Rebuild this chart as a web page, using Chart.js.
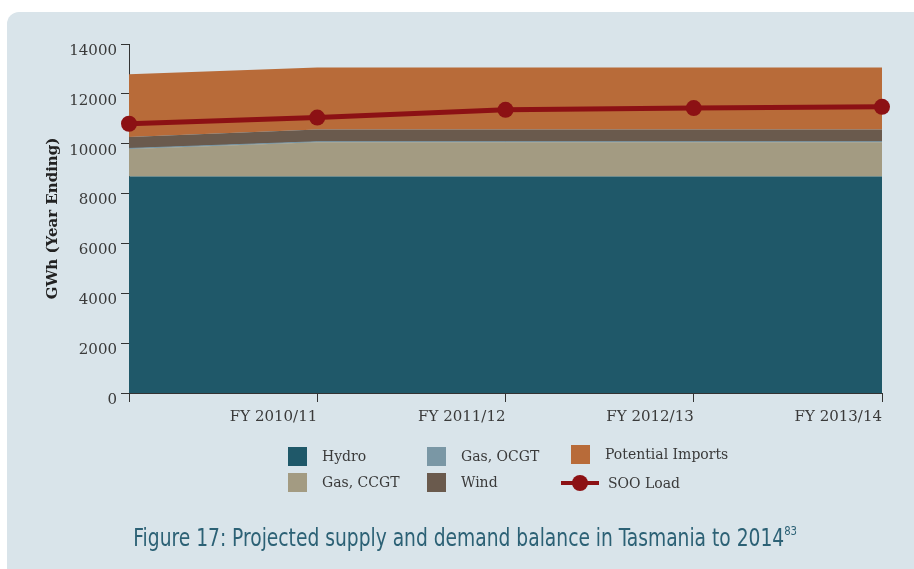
<!DOCTYPE html>
<html>
<head>
<meta charset="utf-8">
<script src="https://cdn.jsdelivr.net/npm/chart.js@4.4.1/dist/chart.umd.min.js"></script>
<style>
  html, body { margin: 0; padding: 0; background: #fff; }
  body { width: 914px; height: 569px; position: relative; overflow: hidden; }
  #panel {
    position: absolute; left: 7px; top: 12px; width: 907px; height: 557px;
    background: #d9e4ea; border-radius: 12px 0 0 0;
  }
  #chart-wrap { position: absolute; left: 0; top: 0; width: 914px; height: 430px; }
  #legend { position: absolute; left: 0; top: 0; width: 914px; height: 569px; pointer-events: none; }
  .lg-item {
    position: absolute; height: 20px; display: flex; align-items: center;
    font: 14px "DejaVu Serif", serif; color: #3a3a3a; white-space: nowrap;
  }
  .lg-box { width: 19px; height: 19px; margin-right: 15px; }
  .lg-line { position: relative; width: 38px; height: 20px; margin-right: 9px; }
  .lg-line::before {
    content: ""; position: absolute; left: 0; right: 0; top: 8px; height: 4px; background: #8c1114;
  }
  .lg-line::after {
    content: ""; position: absolute; left: 11px; top: 2px; width: 16px; height: 16px;
    border-radius: 50%; background: #8c1114;
  }
  #caption {
    position: absolute; left: 7px; width: 914px; top: 523px; text-align: center;
    font: 300 24px "Liberation Sans Narrow", "DejaVu Sans Condensed", "Roboto", sans-serif;
    color: #2c6175; transform: scaleX(0.865); transform-origin: 466px 0;
  }
  #caption sup { font-size: 13px; vertical-align: 11px; }
</style>
</head>
<body>
<div id="panel"></div>
<div id="chart-wrap"><canvas id="supply-chart" width="914" height="430"></canvas></div>
<div id="legend"></div>
<div id="caption">Figure 17: Projected supply and demand balance in Tasmania to 2014<sup>83</sup></div>
<script>
/* ── Data (GWh, year ending) ── */
const yearLabels = ['', 'FY 2010/11', 'FY 2011/12', 'FY 2012/13', 'FY 2013/14'];
const hydro = [8680, 8680, 8680, 8680, 8680];
const gasCcgt = [1110, 1380, 1380, 1380, 1380];
const gasOcgt = [20, 20, 20, 20, 20];
const wind = [460, 490, 490, 490, 490];
const potentialImports = [2520, 2490, 2490, 2490, 2490];
const sooLoad = [10800, 11050, 11360, 11430, 11480];
const yTickValues = [0, 2000, 4000, 6000, 8000, 10000, 12000, 14000];

const axisColor = '#333';
const serif = 'DejaVu Serif';

/* ── Stacked area helper ── */
const areaSet = (label, data, color, first) => ({
    label,
    data,
    backgroundColor: color,
    borderColor: color,
    borderWidth: 0,
    pointRadius: 0,
    tension: 0,
    fill: first ? 'origin' : '-1',
    stack: 'supply',
    order: 1
});

const datasets = [
    areaSet('Hydro', hydro, '#1f5869', true),
    areaSet('Gas, CCGT', gasCcgt, '#a39b82'),
    { ...areaSet('Gas, OCGT', gasOcgt, '#7a97a5'), borderWidth: 1 },
    areaSet('Wind', wind, '#6a5a4d'),
    areaSet('Potential Imports', potentialImports, '#b86b39'),
    {
        label: 'SOO Load',
        data: sooLoad,
        borderColor: '#8c1114',
        backgroundColor: '#8c1114',
        borderWidth: 5,
        pointRadius: 8,
        pointHoverRadius: 8,
        pointBackgroundColor: '#8c1114',
        pointBorderWidth: 0,
        tension: 0,
        fill: false,
        stack: 'load',
        clip: false,
        order: 0
    }
];

const ctx = document.getElementById('supply-chart').getContext('2d');
const chart = new Chart(ctx, {
    type: 'line',
    data: { labels: yearLabels, datasets },
    options: {
        responsive: false,
        animation: false,
        layout: { padding: { left: 40, right: 32, top: 44, bottom: 0 } },
        plugins: { legend: { display: false }, tooltip: { enabled: false } },
        scales: {
            x: {
                offset: false,
                grid: { drawOnChartArea: false, tickLength: 9, color: axisColor },
                border: { color: axisColor, width: 1 },
                ticks: {
                    align: 'end', padding: 6, color: '#3a3a3a',
                    maxRotation: 0, autoSkip: false,
                    font: { family: serif, size: 15 }
                },
                afterFit: (s) => { s.height = 37; s.paddingLeft = 0; s.paddingRight = 0; }
            },
            y: {
                stacked: true,
                min: 0,
                max: 14000,
                afterBuildTicks: (s) => { s.ticks = yTickValues.map(v => ({ value: v })); },
                grid: { drawOnChartArea: false, tickLength: 8, color: axisColor },
                border: { color: axisColor, width: 1 },
                ticks: {
                    padding: 4, labelOffset: 7, color: '#3a3a3a',
                    font: { family: serif, size: 15 },
                    callback: (v) => String(v)
                },
                title: {
                    display: true,
                    text: 'GWh (Year Ending)',
                    color: '#222',
                    font: { family: serif, size: 15, weight: 'bold' },
                    padding: { top: 4, bottom: 4 }
                },
                afterFit: (s) => { s.width = 89; s.paddingTop = 0; s.paddingBottom = 0; }
            }
        }
    }
});

/* ── HTML legend in three columns ── */
const legendSlots = {
    'Hydro': [288, 446], 'Gas, CCGT': [288, 472],
    'Gas, OCGT': [427, 446], 'Wind': [427, 472],
    'Potential Imports': [571, 444], 'SOO Load': [561, 473]
};
const legendEl = document.getElementById('legend');
chart.data.datasets.forEach(ds => {
    const [x, y] = legendSlots[ds.label];
    const item = document.createElement('div');
    item.className = 'lg-item';
    item.style.left = x + 'px';
    item.style.top = y + 'px';
    const sw = document.createElement('span');
    if (ds.stack === 'load') {
        sw.className = 'lg-line';
    } else {
        sw.className = 'lg-box';
        sw.style.background = ds.backgroundColor;
    }
    item.appendChild(sw);
    item.appendChild(document.createTextNode(ds.label));
    legendEl.appendChild(item);
});
</script>
</body>
</html>
